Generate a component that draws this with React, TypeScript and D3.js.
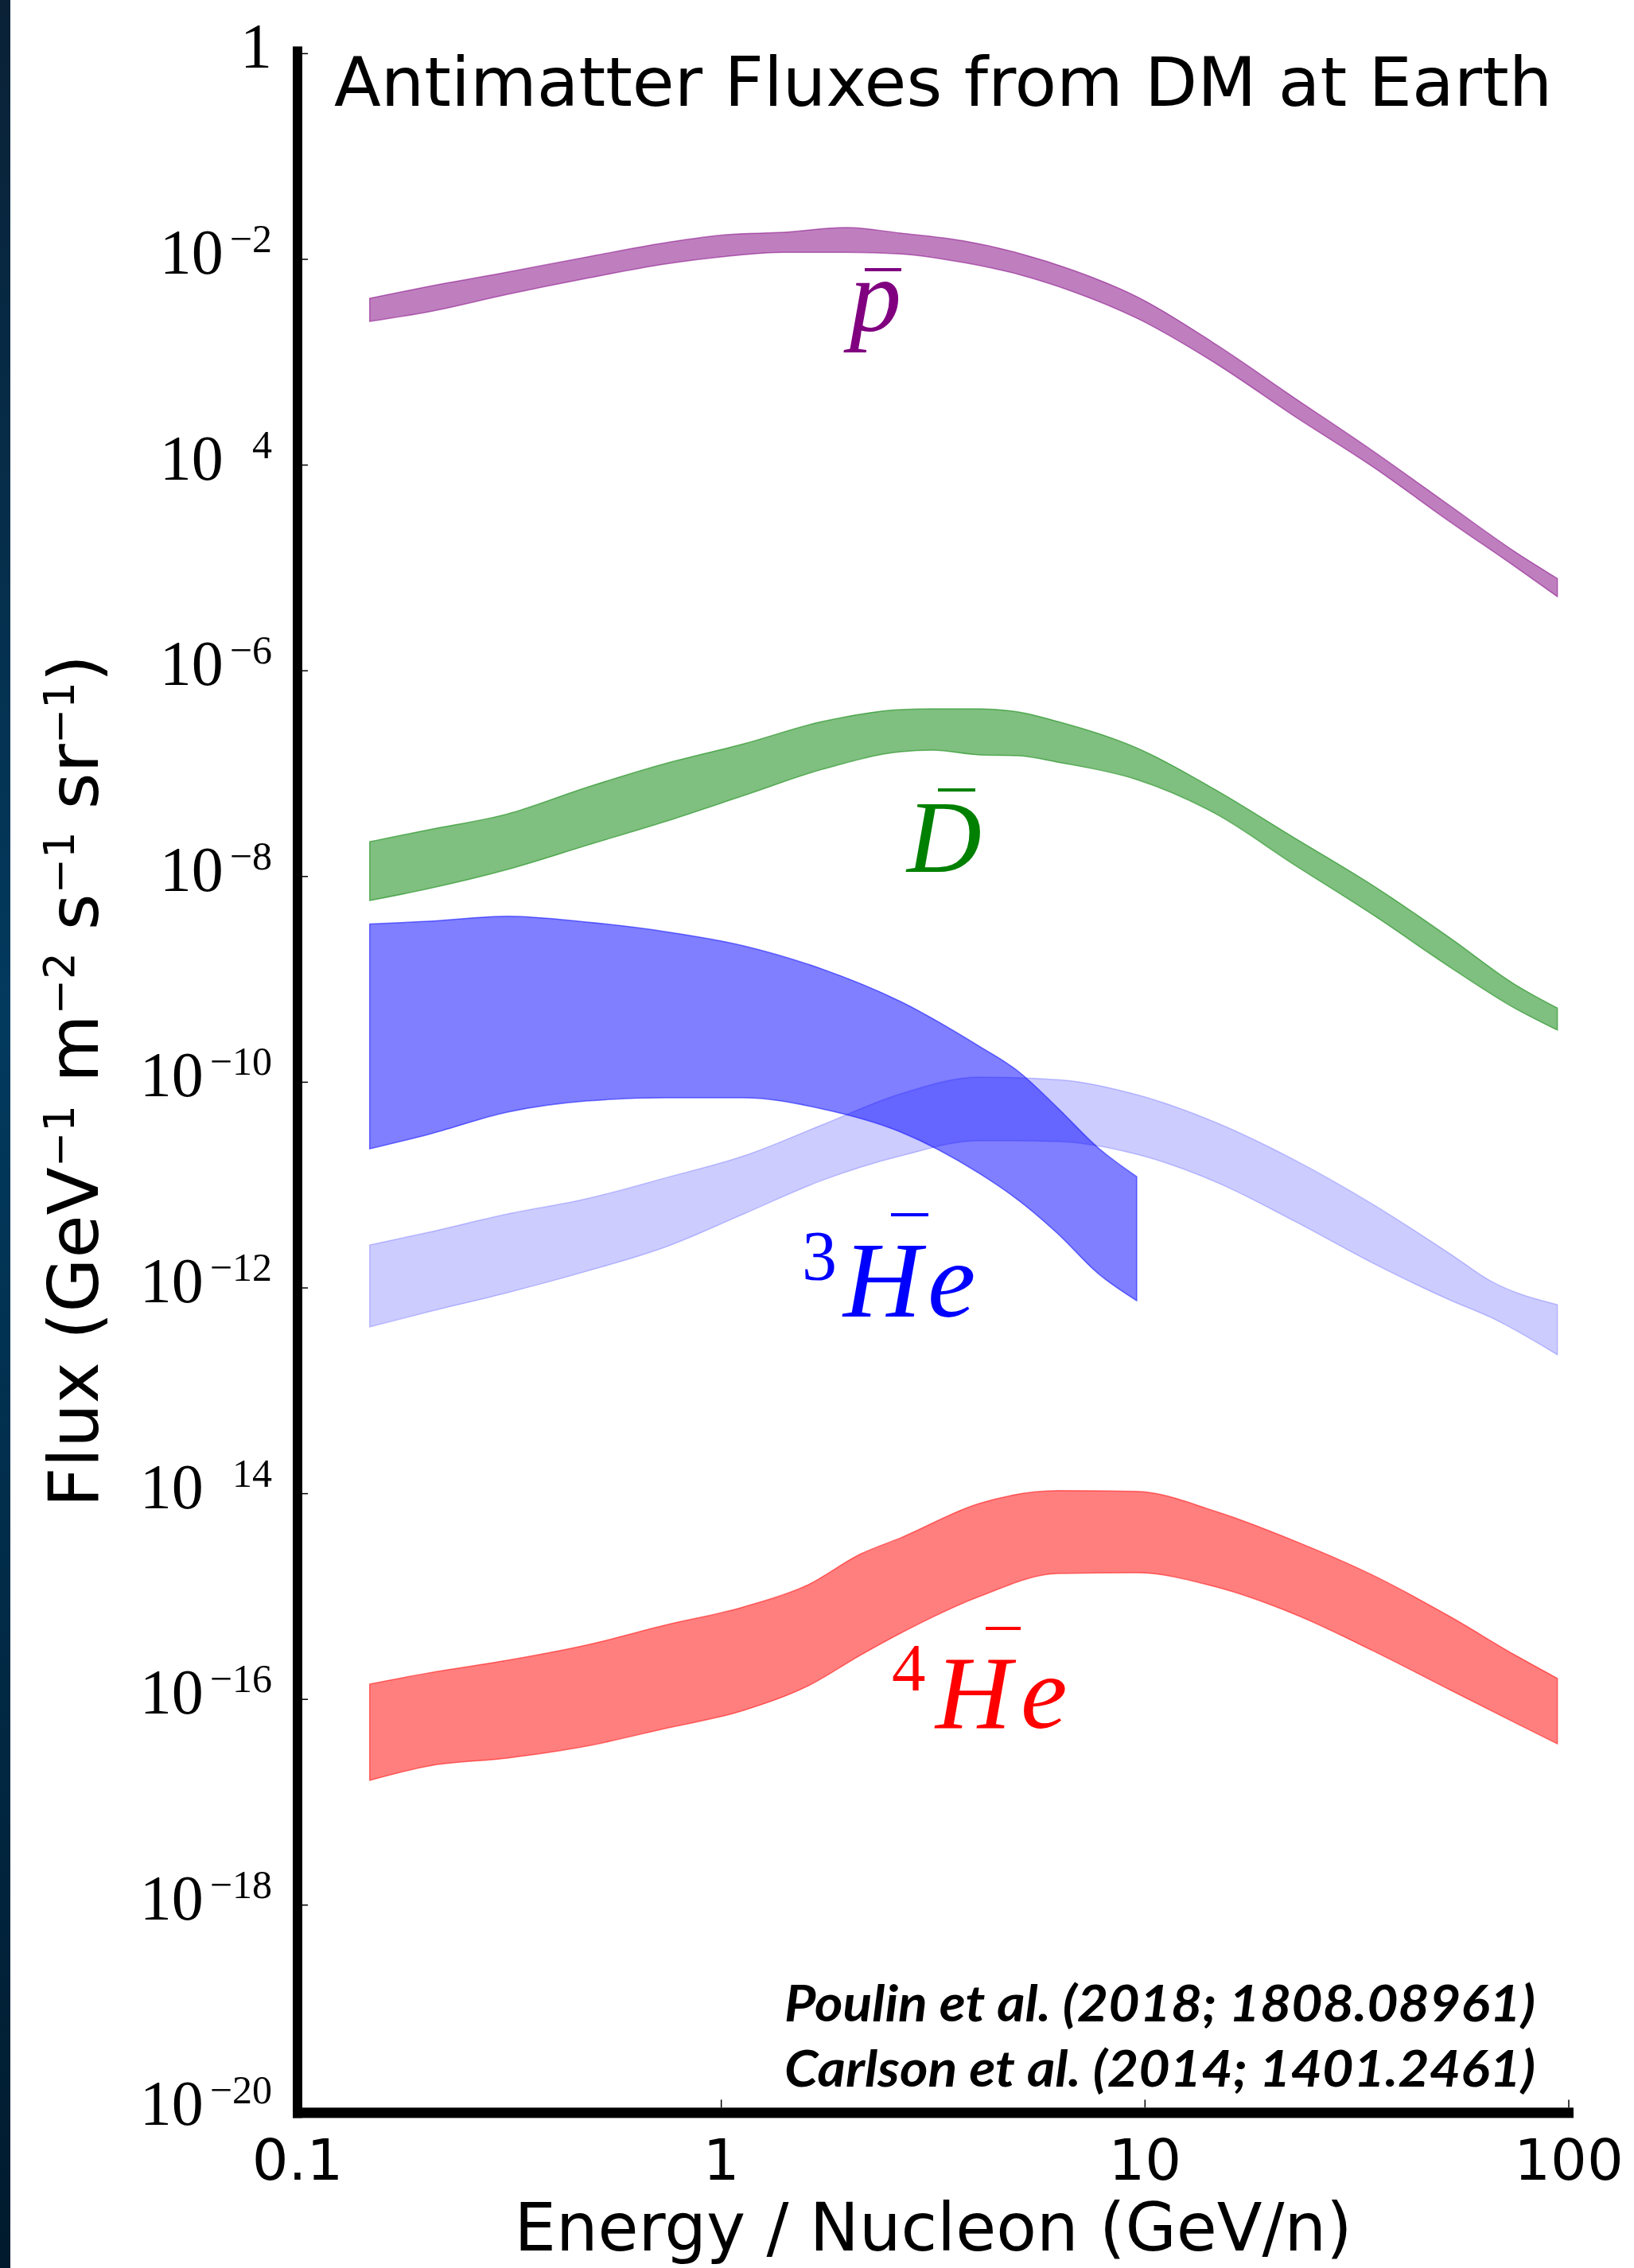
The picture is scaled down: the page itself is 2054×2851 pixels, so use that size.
import React from 'react';
import * as d3 from 'd3';

const W = 2054;
const H = 2851;

// ---------- data (energy per nucleon in GeV/n, flux in GeV^-1 m^-2 s^-1 sr^-1) ----------
const pbarEnergy = [0.148, 0.204, 0.313, 0.48, 0.735, 1.03, 1.4, 1.97, 2.65, 3.73, 5.03, 6.79, 9.56, 14.7, 22.5, 34.5, 52.8, 74.4, 94];
const pbarUpper = [4.18e-3, 5.46e-3, 7.52e-3, 1.05e-2, 1.45e-2, 1.74e-2, 1.83e-2, 2.04e-2, 1.8e-2, 1.51e-2, 1.15e-2, 7.8e-3, 4.34e-3, 1.49e-3, 4.51e-4, 1.37e-4, 3.94e-5, 1.45e-5, 7.9e-6];
const pbarLower = [2.49e-3, 3.09e-3, 4.57e-3, 6.52e-3, 8.99e-3, 1.07e-2, 1.17e-2, 1.17e-2, 1.13e-2, 9.31e-3, 7.13e-3, 4.82e-3, 2.68e-3, 9.7e-4, 2.99e-4, 9.6e-5, 2.75e-5, 1.04e-5, 5.26e-6];

const dbarEnergy = [0.148, 0.204, 0.313, 0.48, 0.735, 1.13, 1.73, 2.65, 3.15, 4.06, 5.03, 6.23, 9.56, 14.7, 22.5, 34.5, 52.8, 74.4, 94];
const dbarUpper = [2.18e-8, 2.85e-8, 4.06e-8, 7.33e-8, 1.25e-7, 1.95e-7, 3.21e-7, 4.2e-7, 4.27e-7, 4.27e-7, 3.97e-7, 3.21e-7, 1.78e-7, 6.93e-8, 2.38e-8, 8.18e-9, 2.48e-9, 9.0e-10, 5.27e-10];
const dbarLower = [5.83e-9, 7.62e-9, 1.17e-8, 2.0e-8, 3.4e-8, 6.12e-8, 1.1e-7, 1.63e-7, 1.69e-7, 1.52e-7, 1.49e-7, 1.29e-7, 8.75e-8, 4.06e-8, 1.3e-8, 4.24e-9, 1.29e-9, 5.27e-10, 3.21e-10];

// 3He-bar, Poulin et al. (dark blue)
const he3PoulinEnergy = [0.148, 0.204, 0.313, 0.48, 0.735, 1.13, 1.73, 2.65, 4.06, 5.03, 6.23, 7.72, 9.56];
const he3PoulinUpper = [3.45e-9, 3.67e-9, 4.11e-9, 3.61e-9, 2.92e-9, 2.12e-9, 1.26e-9, 6.08e-10, 2.24e-10, 1.27e-10, 5.6e-11, 2.34e-11, 1.21e-11];
const he3PoulinLower = [2.25e-11, 3.11e-11, 5.12e-11, 6.56e-11, 7.05e-11, 7.05e-11, 5.5e-11, 3.28e-11, 1.3e-11, 7.1e-12, 3.36e-12, 1.4e-12, 7.52e-13];

// 3He-bar, Carlson et al. (light blue)
const he3CarlsonEnergy = [0.148, 0.204, 0.313, 0.48, 0.735, 1.13, 1.73, 2.65, 4.06, 6.23, 9.56, 14.7, 22.5, 34.5, 52.8, 65.4, 94];
const he3CarlsonUpper = [2.62e-12, 3.48e-12, 5.24e-12, 7.35e-12, 1.17e-11, 1.92e-11, 3.85e-11, 7.71e-11, 1.12e-10, 1.06e-10, 7.57e-11, 4.06e-11, 1.76e-11, 6.49e-12, 2.11e-12, 1.17e-12, 6.89e-13];
const he3CarlsonLower = [4.18e-13, 5.86e-13, 9.0e-13, 1.45e-12, 2.48e-12, 5.24e-12, 1.11e-11, 1.92e-11, 2.7e-11, 2.65e-11, 1.99e-11, 1.07e-11, 4.47e-12, 1.74e-12, 7.52e-13, 5.18e-13, 2.24e-13];

const he4Energy = [0.148, 0.204, 0.313, 0.48, 0.735, 1.13, 1.59, 2.14, 2.65, 4.06, 6.23, 9.56, 14.7, 22.5, 34.5, 52.8, 74.4, 94];
const he4Upper = [1.41e-16, 1.81e-16, 2.4e-16, 3.37e-16, 5.26e-16, 7.93e-16, 1.28e-15, 2.61e-15, 3.72e-15, 8.02e-15, 1.07e-14, 1.05e-14, 6.71e-15, 3.48e-15, 1.61e-15, 6.28e-16, 2.72e-16, 1.6e-16];
const he4Lower = [1.63e-17, 2.25e-17, 2.69e-17, 3.51e-17, 5.19e-17, 7.82e-17, 1.33e-16, 2.72e-16, 4.4e-16, 9.98e-16, 1.67e-15, 1.7e-15, 1.24e-15, 6.75e-16, 2.97e-16, 1.22e-16, 5.98e-17, 3.7e-17];

const xTickValues = [0.1, 1, 10, 100];
const xTickLabels = ['0.1', '1', '10', '100'];
const yTickExponents = [0, -2, -4, -6, -8, -10, -12, -14, -16, -18, -20];
const yTickHiddenMinus = [-4, -14];

const titleText = 'Antimatter Fluxes from DM at Earth';
const xLabelText = 'Energy / Nucleon (GeV/n)';
const citations = ['Poulin et al. (2018; 1808.08961)', 'Carlson et al. (2014; 1401.2461)'];

export default function App() {
  const x = d3.scaleLog().domain([0.1, 100]).range([374, 1972]);
  const y = d3.scaleLog().domain([1e-20, 1]).range([2653.4, 67.4]);

  const band = (E: number[], lo: number[], hi: number[]) =>
    d3
      .area<number>()
      .x((d) => x(d))
      .y0((_, i) => y(lo[i]))
      .y1((_, i) => y(hi[i]))
      .curve(d3.curveMonotoneX)(E) || '';

  const bands = [
    { d: band(pbarEnergy, pbarLower, pbarUpper), c: '#800080', a: 0.5 },
    { d: band(dbarEnergy, dbarLower, dbarUpper), c: '#008000', a: 0.5 },
    { d: band(he3PoulinEnergy, he3PoulinLower, he3PoulinUpper), c: '#0000ff', a: 0.5 },
    { d: band(he3CarlsonEnergy, he3CarlsonLower, he3CarlsonUpper), c: '#0000ff', a: 0.2 },
    { d: band(he4Energy, he4Lower, he4Upper), c: '#ff0000', a: 0.5 },
  ];

  const x0 = x(0.1);
  const x1 = x(100);
  const yTop = y(1);
  const yBot = y(1e-20);
  const serif = 'Liberation Serif, Times New Roman, serif';
  const sans = 'DejaVu Sans, sans-serif';

  return (
    <svg
      width={W}
      height={H}
      viewBox={`0 0 ${W} ${H}`}
      style={{ position: 'absolute', left: 0, top: 0, display: 'block', background: '#fff' }}
    >
      <defs>
        <linearGradient id="strip" x1="0" y1="0" x2="0" y2="1">
          <stop offset="0" stopColor="#0a2136" />
          <stop offset="0.45" stopColor="#023a5e" />
          <stop offset="1" stopColor="#011a2d" />
        </linearGradient>
      </defs>
      <rect x={0} y={0} width={W} height={H} fill="#fff" />
      <rect x={0} y={0} width={13} height={H} fill="url(#strip)" />

      {/* bands */}
      {bands.map((b, i) => (
        <path key={i} d={b.d} fill={b.c} fillOpacity={b.a} stroke={b.c} strokeOpacity={b.a} strokeWidth={1.5} />
      ))}

      {/* axes */}
      <rect x={x0 - 6} y={yTop - 9} width={12} height={yBot - yTop + 18} fill="#000" />
      <rect x={x0 - 6} y={yBot - 4} width={x1 - x0 + 12} height={13} fill="#000" />
      {yTickExponents.map((e) => (
        <line key={'yt' + e} x1={x0 + 6} x2={x0 + 13} y1={y(Math.pow(10, e))} y2={y(Math.pow(10, e))} stroke="#000" strokeWidth={1.5} />
      ))}
      {xTickValues.slice(1).map((v) => (
        <line key={'xt' + v} x1={x(v)} x2={x(v)} y1={yBot - 4} y2={yBot - 14} stroke="#000" strokeWidth={1.5} />
      ))}

      {/* y tick labels */}
      {yTickExponents.map((e) => {
        const ty = y(Math.pow(10, e));
        if (e === 0) {
          return (
            <text key={'yl' + e} x={342} y={ty + 18} textAnchor="end" fontFamily={serif} fontSize={80}>
              1
            </text>
          );
        }
        const hide = yTickHiddenMinus.includes(e);
        return (
          <text key={'yl' + e} x={342} y={ty + 18} textAnchor="end" fontFamily={serif} fontSize={80}>
            10
            <tspan dx={8} dy={-27} fontSize={50}>
              <tspan fillOpacity={hide ? 0 : 1}>−</tspan>
              {String(Math.abs(e))}
            </tspan>
          </text>
        );
      })}

      {/* x tick labels */}
      {xTickValues.map((v, i) => (
        <text key={'xl' + v} x={x(v)} y={2740} textAnchor="middle" fontFamily={sans} fontSize={72}>
          {xTickLabels[i]}
        </text>
      ))}

      {/* title */}
      <text x={420} y={133} fontFamily={sans} fontSize={86}>
        {titleText}
      </text>

      {/* axis labels */}
      <text x={1173} y={2829} textAnchor="middle" fontFamily={sans} fontSize={83}>
        {xLabelText}
      </text>
      <text transform="translate(123,1895) rotate(-90)" fontFamily={sans} fontSize={88}>
        Flux (GeV
        <tspan fontSize={53} dy={-30}>−1</tspan>
        <tspan dy={30}> m</tspan>
        <tspan fontSize={53} dy={-30}>−2</tspan>
        <tspan dy={30}> s</tspan>
        <tspan fontSize={53} dy={-30}>−1</tspan>
        <tspan dy={30}> sr</tspan>
        <tspan fontSize={53} dy={-30}>−1</tspan>
        <tspan dy={30}>)</tspan>
      </text>

      {/* species labels */}
      <text x={1068} y={415} fontFamily={serif} fontStyle="italic" fontSize={130} fill="#800080">
        p
      </text>
      <rect x={1087} y={337} width={46} height={4} fill="#800080" />

      <text x={1140} y={1096} fontFamily={serif} fontStyle="italic" fontSize={130} fill="#008000">
        D
      </text>
      <rect x={1179} y={991} width={47} height={4} fill="#008000" />

      <text fill="#0000ff" fontFamily={serif}>
        <tspan x={1008} y={1608} fontSize={88}>3</tspan>
        <tspan x={1060} y={1655} fontSize={136} fontStyle="italic">H</tspan>
        <tspan x={1166} y={1655} fontSize={136} fontStyle="italic">e</tspan>
      </text>
      <rect x={1120} y={1525} width={47} height={4} fill="#0000ff" />

      <text fill="#ff0000" fontFamily={serif}>
        <tspan x={1121} y={2125} fontSize={85}>4</tspan>
        <tspan x={1176} y={2172} fontSize={132} fontStyle="italic">H</tspan>
        <tspan x={1283} y={2172} fontSize={132} fontStyle="italic">e</tspan>
      </text>
      <rect x={1239} y={2045} width={44} height={4} fill="#ff0000" />

      {/* citations */}
      {citations.map((c, i) => (
        <text
          key={c}
          x={1930}
          y={2541 + i * 82}
          textAnchor="end"
          textLength={944}
          lengthAdjust="spacingAndGlyphs"
          fontFamily="Lato, sans-serif"
          fontWeight={700}
          fontStyle="italic"
          fontSize={64}
        >
          {c}
        </text>
      ))}
    </svg>
  );
}
